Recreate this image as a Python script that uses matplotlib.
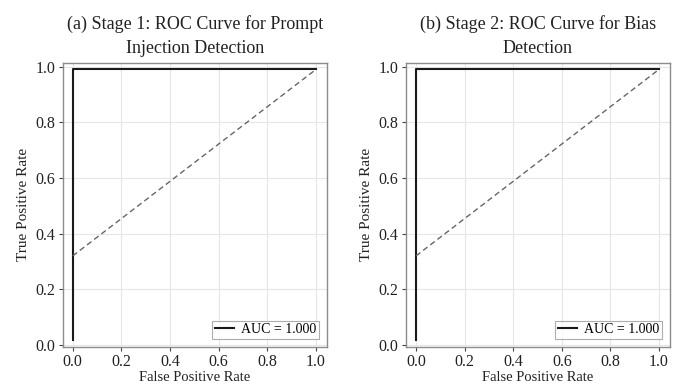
import matplotlib
matplotlib.use("Agg")
import matplotlib.pyplot as plt

titles = ["(a) Stage 1: ROC Curve for Prompt\nInjection Detection",
          "(b) Stage 2: ROC Curve for Bias\nDetection"]
fpr = [[0.0, 0.0, 1.0], [0.0, 0.0, 1.0]]
tpr = [[0.018, 0.99, 0.99], [0.018, 0.99, 0.99]]
ref_x = [0.0, 1.0]
ref_y = [0.32, 0.99]
auc_vals = [1.000, 1.000]
ticks = [0.0, 0.2, 0.4, 0.6, 0.8, 1.0]

plt.rcParams['font.family'] = ['Liberation Serif', 'DejaVu Serif']

fig = plt.figure(figsize=(6.8, 3.85), dpi=100)
W, H = 680, 385
boxes = [(62.7, 327), (406, 670)]
top_px, bot_px = 62.7, 346.7
for i, (l, r) in enumerate(boxes):
    ax = fig.add_axes([l / W, 1 - bot_px / H, (r - l) / W, (bot_px - top_px) / H])
    ax.grid(True, color='#e6e6e6', lw=0.8)
    ax.set_axisbelow(True)
    ax.plot(fpr[i], tpr[i], color='#1a1a1a', lw=1.5, label=f"AUC = {auc_vals[i]:.3f}")
    ax.plot(ref_x, ref_y, color='#666666', lw=1.0, ls=(0, (4, 2.5)))
    ax.set_xlim(-0.041, 1.045)
    ax.set_ylim(-0.006, 1.014)
    ax.set_xticks(ticks)
    ax.set_yticks(ticks)
    ax.set_xticklabels([f"{t:.1f}" for t in ticks])
    ax.set_yticklabels([f"{t:.1f}" for t in ticks])
    for s in ax.spines.values():
        s.set_color('#8c8c8c')
        s.set_linewidth(1.0)
    ax.tick_params(axis='both', direction='out', length=3, width=0.8, color='#444444',
                   labelsize=11.5, labelcolor='#222222', pad=2.5)
    ax.tick_params(axis='x', pad=2)
    ax.set_xlabel("False Positive Rate", fontsize=10.5, color='#222222', labelpad=1)
    ax.set_ylabel("True Positive Rate", fontsize=11, color='#222222', labelpad=4)
    ax.set_title(titles[i], fontsize=13, color='#222222', linespacing=1.55, pad=7)
    leg = ax.legend(loc='lower right', fontsize=10, frameon=True, fancybox=False,
                    handlelength=1.4, handletextpad=0.5, borderpad=0.2,
                    borderaxespad=0.55)
    leg.get_frame().set_edgecolor('#999999')
    leg.get_frame().set_linewidth(0.8)

fig.savefig("out.png", dpi=100, facecolor='white')
